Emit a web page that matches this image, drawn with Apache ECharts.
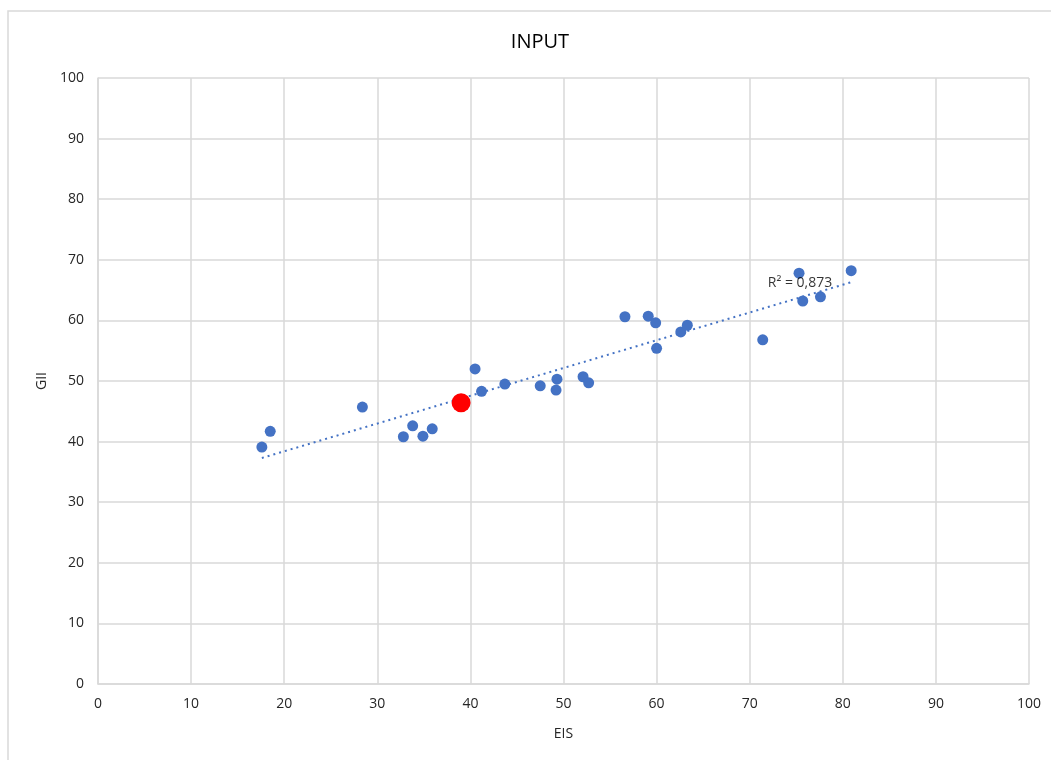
<!DOCTYPE html>
<html>
<head>
<meta charset="utf-8">
<script src="https://cdn.jsdelivr.net/npm/echarts@6/dist/echarts.min.js"></script>
<style>html,body{margin:0;padding:0;background:#fff;}#chart{width:1051px;height:760px;}</style>
</head>
<body>
<div id="chart"></div>
<script>
// Country points (EIS, GII)
var eisValues = [17.6, 18.5, 28.4, 32.8, 33.8, 34.9, 35.9, 40.5, 41.2, 43.7, 47.5, 49.2, 49.3, 52.1, 52.7, 56.6, 59.1, 59.9, 60.0, 62.6, 63.3, 71.4, 75.3, 75.7, 77.6, 80.9];
var giiValues = [39.1, 41.7, 45.7, 40.8, 42.6, 40.9, 42.1, 52.0, 48.3, 49.5, 49.2, 48.5, 50.3, 50.7, 49.7, 60.6, 60.7, 59.6, 55.4, 58.1, 59.2, 56.8, 67.8, 63.2, 63.9, 68.2];
// Highlighted point
var highlightEis = [39.0];
var highlightGii = [46.4];
// Linear trendline endpoints
var trendEis = [17.6, 80.9];
var trendGii = [37.3, 66.3];
var r2Label = 'R² = 0,873';
var r2Pos = [75.4, 66.2];
var axisTicks = [0, 10, 20, 30, 40, 50, 60, 70, 80, 90, 100];

function zip(a, b) { return a.map(function (v, i) { return [v, b[i]]; }); }

var chart = echarts.init(document.getElementById('chart'), null, {renderer: 'canvas'});
var font = '"Open Sans", "Liberation Sans", sans-serif';
chart.setOption({
  animation: false,
  backgroundColor: '#ffffff',
  title: {
    text: 'INPUT', left: 535, top: 27, textAlign: 'center',
    textStyle: {fontFamily: font, fontSize: 20, fontWeight: 'normal', color: '#000000'}
  },
  graphic: [{
    type: 'rect', shape: {x: 8, y: 11, width: 1100, height: 800},
    style: {fill: 'none', stroke: '#d9d9d9', lineWidth: 1.5}, silent: true, z: -1
  }],
  grid: {left: 98, right: 22, top: 78, bottom: 76, containLabel: false},
  xAxis: {
    type: 'value', min: axisTicks[0], max: axisTicks[axisTicks.length - 1], interval: 10,
    name: 'EIS', nameLocation: 'middle', nameGap: 43,
    nameTextStyle: {fontFamily: font, fontSize: 14, color: '#262626'},
    axisLine: {show: true, lineStyle: {color: '#d9d9d9', width: 1.5}},
    axisTick: {show: false},
    axisLabel: {fontFamily: font, fontSize: 14, color: '#262626', margin: 13},
    splitLine: {show: true, lineStyle: {color: '#d9d9d9', width: 1.5}}
  },
  yAxis: {
    type: 'value', min: axisTicks[0], max: axisTicks[axisTicks.length - 1], interval: 10,
    name: 'GII', nameLocation: 'middle', nameGap: 48, nameRotate: 90,
    nameTextStyle: {fontFamily: font, fontSize: 14, color: '#262626'},
    axisLine: {show: true, lineStyle: {color: '#d9d9d9', width: 1.5}},
    axisTick: {show: false},
    axisLabel: {fontFamily: font, fontSize: 14, color: '#262626', margin: 14},
    splitLine: {show: true, lineStyle: {color: '#d9d9d9', width: 1.5}}
  },
  series: [
    {
      type: 'line', data: zip(trendEis, trendGii), symbol: 'none',
      lineStyle: {color: '#4472C4', width: 2, type: [2, 4]}, z: 2
    },
    {
      type: 'scatter', data: zip(eisValues, giiValues), symbolSize: 11,
      itemStyle: {color: '#4472C4', opacity: 1}, z: 3
    },
    {
      type: 'scatter', data: zip(highlightEis, highlightGii), symbolSize: 19,
      itemStyle: {color: '#FF0000', opacity: 1}, z: 4
    },
    {
      type: 'scatter', data: [r2Pos], symbolSize: 0, z: 5,
      label: {show: true, position: 'inside', formatter: r2Label,
        fontFamily: font, fontSize: 14, color: '#000000'}
    }
  ]
});
</script>
</body>
</html>
